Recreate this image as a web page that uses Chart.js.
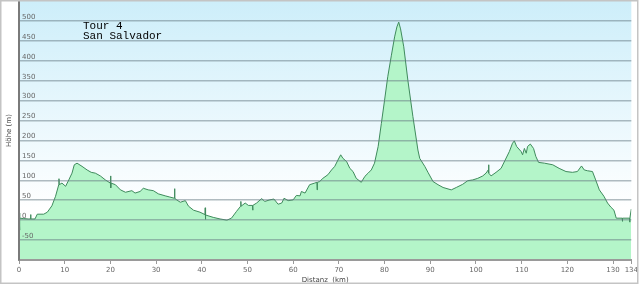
<!DOCTYPE html>
<html>
<head>
<meta charset="utf-8">
<script src="https://cdn.jsdelivr.net/npm/chart.js@4/dist/chart.umd.min.js"></script>
<style>
  body { margin: 0; background: #fff; }
  canvas { display: block; }
</style>
</head>
<body>
<canvas id="profileChart" width="640" height="286"></canvas>
<script>
// distance along the route (km) and elevation (m)
let distances = [0, 0.1, 0.2, 1, 2, 2.5, 2.55, 2.6, 3.5, 4, 5.4, 6.2, 7.2, 8, 8.7, 8.75, 8.8, 9.4, 10.2, 10.9,
    11.6, 12.1, 12.7, 13.8, 14.9, 15.8, 16.7, 17.8, 18.9, 20, 20.05, 20.1, 20.15, 21.1, 22.2, 23.3, 24.7, 25.4, 26.5, 27.2,
    28.3, 29.4, 30.5, 32, 33, 34, 34.05, 34.1, 34.5, 35.3, 36.4, 37.1, 38.2, 39.6, 40.7, 40.75, 40.8, 40.85, 42.5, 44,
    45.5, 46.5, 47.6, 48.5, 48.55, 48.6, 49.5, 50.2, 51.1, 51.15, 51.2, 52, 53.1, 53.8, 54.9, 55.8, 56.7, 57.5, 58, 58.9,
    60, 60.7, 61.5, 61.8, 62.6, 63.6, 64.7, 65.2, 65.25, 65.3, 65.8, 66.5, 67.6, 68.4, 69.1, 69.8, 70.4, 70.9, 71.7, 72.4,
    73.1, 73.8, 74.9, 75.7, 76.4, 77.1, 77.8, 78.6, 79.3, 80, 80.7, 81.5, 82.2, 82.7, 83.1, 83.5, 84.2, 85.1, 86.2, 87.3,
    87.7, 88.8, 89.5, 90.6, 91.7, 92.8, 94.6, 95.7, 97.1, 98.2, 99.3, 100.4, 101.5, 102.2, 102.7, 102.75, 102.85, 103.3, 104.4, 105.5,
    106.4, 107.3, 108, 108.4, 108.9, 109.9, 110.2, 110.6, 111, 111.3, 111.9, 112.6, 113.1, 113.7, 115, 116.8, 118.2, 119.7, 121.1, 122.2,
    123.1, 123.7, 124.4, 125.5, 126.2, 127, 128, 128.8, 129.5, 130.2, 130.7, 132, 132.05, 132.1, 133.6, 133.65, 133.7, 134];

let elevations = [18, -25, 5, 4, 3, 3, 14, 3, 3, 15, 15, 20, 36, 60, 89, 104, 89, 93, 85, 101,
    118, 139, 143, 135, 126, 120, 118, 111, 101, 93, 111, 81, 93, 89, 76, 70, 74, 68, 72, 80,
    76, 74, 66, 61, 58, 55, 79, 55, 51, 45, 49, 35, 25, 20, 14, 31, 2, 13, 7, 3,
    0, 5, 22, 35, 47, 35, 43, 37, 37, 25, 37, 43, 54, 47, 51, 53, 40, 43, 55, 49,
    51, 62, 61, 72, 68, 89, 93, 95, 76, 95, 97, 105, 114, 126, 135, 151, 164, 155, 147, 130,
    122, 105, 95, 110, 118, 126, 143, 185, 243, 301, 360, 414, 460, 485, 497, 480, 435, 351, 260, 176,
    155, 135, 120, 97, 89, 82, 76, 82, 90, 99, 101, 105, 111, 118, 126, 139, 118, 111, 120, 130,
    151, 172, 193, 199, 185, 172, 164, 180, 168, 185, 191, 180, 160, 145, 143, 139, 130, 122, 120, 122,
    136, 126, 124, 122, 101, 76, 60, 43, 33, 25, 5, 5, -3, 5, 5, -5, 5, 28];

let xTicks = [0, 10, 20, 30, 40, 50, 60, 70, 80, 90, 100, 110, 120, 130, 134];
let titleLines = ["Tour 4", "San Salvador"];

let points = distances.map((d, i) => ({ x: d, y: elevations[i] }));

// light blue gradient behind the plot, frame round the picture
const backgroundPlugin = {
    id: "background",
    beforeDraw(chart) {
        let ctx = chart.ctx;
        let a = chart.chartArea;
        let grad = ctx.createLinearGradient(0, a.top, 0, a.bottom);
        grad.addColorStop(0, "#cdeefa");
        grad.addColorStop(0.8, "#ffffff");
        ctx.save();
        ctx.fillStyle = "#ffffff";
        ctx.fillRect(0, 0, chart.width, chart.height);
        ctx.fillStyle = grad;
        ctx.fillRect(a.left, a.top, a.right - a.left, a.bottom - a.top);
        ctx.restore();
    },
    afterDraw(chart) {
        let ctx = chart.ctx;
        ctx.save();
        ctx.strokeStyle = "#c4c4c4";
        ctx.lineWidth = 1.5;
        ctx.strokeRect(0.75, 0.75, chart.width - 3, chart.height - 3.5);
        ctx.fillStyle = "#000";
        ctx.font = "11px 'Liberation Mono', 'DejaVu Sans Mono', monospace";
        ctx.textBaseline = "alphabetic";
        titleLines.forEach((t, i) => ctx.fillText(t, 83, 29 + i * 9.5));
        ctx.restore();
    }
};

new Chart(document.getElementById("profileChart").getContext("2d"), {
    type: "line",
    data: {
        datasets: [{
            label: "Höhe",
            data: points,
            borderColor: "#3f8a5c",
            backgroundColor: "#b4f5c9",
            borderWidth: 1,
            pointRadius: 0,
            tension: 0,
            fill: "start"
        }]
    },
    options: {
        responsive: false,
        animation: false,
        devicePixelRatio: 1,
        layout: { padding: { left: 0, right: 7, top: 1, bottom: 2 } },
        plugins: {
            legend: { display: false },
            tooltip: { enabled: false }
        },
        scales: {
            x: {
                type: "linear",
                min: 0,
                max: 134,
                afterBuildTicks: s => { s.ticks = xTicks.map(v => ({ value: v })); },
                afterFit: s => { s.height = 24; },
                ticks: {
                    autoSkip: false,
                    maxRotation: 0,
                    padding: 2,
                    color: "#666",
                    font: { family: "'DejaVu Sans'", size: 7 }
                },
                grid: { drawOnChartArea: false, drawTicks: true, tickLength: 4, color: "#999" },
                border: { color: "#9a9a9a", width: 2, z: 2 },
                title: {
                    display: true,
                    text: "Distanz  (km)",
                    color: "#444",
                    padding: 0,
                    font: { family: "'DejaVu Sans'", size: 7 }
                }
            },
            y: {
                min: -100,
                max: 550,
                afterFit: s => { s.width = 19; s.paddingTop = 0; s.paddingBottom = 0; },
                ticks: {
                    z: 2,
                    stepSize: 50,
                    autoSkip: false,
                    mirror: true,
                    padding: 3,
                    labelOffset: -4,
                    color: "#666",
                    font: { family: "'DejaVu Sans'", size: 7 },
                    callback: v => (v === -100 || v === 550) ? null : v
                },
                grid: { z: 1, color: "rgba(100,120,130,0.5)", lineWidth: 1.5, drawTicks: false },
                border: { z: 2, color: "#7a7a7a", width: 2 },
                title: {
                    display: true,
                    text: "Höhe (m)",
                    color: "#444",
                    padding: { top: 5, bottom: 0 },
                    font: { family: "'DejaVu Sans'", size: 7 }
                }
            }
        }
    },
    plugins: [backgroundPlugin]
});
</script>
</body>
</html>
